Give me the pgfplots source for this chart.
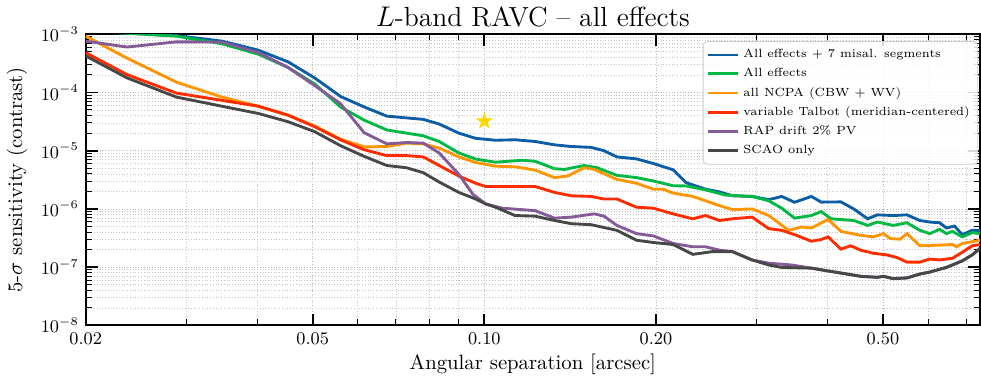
\documentclass[border=0pt]{standalone}
\usepackage{pgfplots}
\pgfplotsset{compat=1.18}
\definecolor{cblue}{HTML}{0C5DA5}
\definecolor{cgreen}{HTML}{00B945}
\definecolor{corange}{HTML}{FF9500}
\definecolor{cred}{HTML}{FF2C00}
\definecolor{cpurple}{HTML}{845B97}
\definecolor{cgray}{HTML}{474747}
\definecolor{cgold}{HTML}{FFD700}
\pgfdeclareplotmark{fivestar}{%
  \pgfpathmoveto{\pgfpointpolar{90}{\pgfplotmarksize}}%
  \pgfpathlineto{\pgfpointpolar{126}{0.4\pgfplotmarksize}}%
  \pgfpathlineto{\pgfpointpolar{162}{\pgfplotmarksize}}%
  \pgfpathlineto{\pgfpointpolar{198}{0.4\pgfplotmarksize}}%
  \pgfpathlineto{\pgfpointpolar{234}{\pgfplotmarksize}}%
  \pgfpathlineto{\pgfpointpolar{270}{0.4\pgfplotmarksize}}%
  \pgfpathlineto{\pgfpointpolar{306}{\pgfplotmarksize}}%
  \pgfpathlineto{\pgfpointpolar{342}{0.4\pgfplotmarksize}}%
  \pgfpathlineto{\pgfpointpolar{18}{\pgfplotmarksize}}%
  \pgfpathlineto{\pgfpointpolar{54}{0.4\pgfplotmarksize}}%
  \pgfpathclose
  \pgfusepathqfill
}
\begin{document}
\begin{tikzpicture}
\begin{axis}[
  scale only axis,
  width=453pt, height=147.5pt,
  xmode=log, ymode=log,
  xmin=0.02, xmax=0.74, ymin=1e-8, ymax=1e-3,
  xtick={0.02,0.05,0.1,0.2,0.5},
  xticklabels={0.02,0.05,0.10,0.20,0.50},
  minor xtick={0.03,0.04,0.06,0.07,0.08,0.09,0.3,0.4,0.6,0.7},
  ytick={1e-8,1e-7,1e-6,1e-5,1e-4,1e-3},
  tick align=inside,
  major tick length=6pt, minor tick length=3pt,
  every major tick/.append style={line width=0.9pt, black},
  every minor tick/.append style={line width=0.5pt, black},
  axis line style={line width=1pt},
  grid=both,
  major grid style={densely dotted, gray!55, line width=0.4pt},
  minor grid style={densely dotted, gray!45, line width=0.35pt},
  tick label style={font=\fontsize{9}{10}\selectfont},
  xlabel={Angular separation [arcsec]},
  ylabel={5-$\sigma$ sensitivity (contrast)},
  label style={font=\fontsize{10.5}{12}\selectfont},
  xlabel style={yshift=2pt},
  title={$L$-band RAVC -- all effects},
  title style={font=\fontsize{14}{16}\selectfont, at={(0.5,1)}, anchor=base, yshift=-2pt},
  legend style={at={(0.998,0.976)}, anchor=north east,
    font=\fontsize{6}{6.8}\selectfont, draw=gray!40, rounded corners=2pt,
    fill=white, fill opacity=0.85, text opacity=1, row sep=1.0pt,
    inner xsep=2pt, inner ysep=2.5pt,
    nodes={inner xsep=2pt, inner ysep=1.4pt}},
  legend cell align=left,
  legend image code/.code={\draw[#1] (0pt,0pt) -- (15pt,0pt);},
  every axis plot/.append style={line width=1.45pt},
]
\addplot[cblue] coordinates {
(0.0200,1.12e-3) (0.02364,1.04e-3) (0.02886,0.944e-3) (0.03468,0.761e-3) (0.04018,0.530e-3) (0.04528,0.335e-3) (0.05042,1.775e-4) (0.05594,8.55e-5) (0.06154,5.64e-5) (0.06746,3.92e-5) (0.07816,3.45e-5) (0.08332,2.87e-5) (0.09024,2.0e-5) (0.09656,1.63e-5) (0.1046,1.51e-5) (0.1132,1.54e-5) (0.1227,1.44e-5) (0.1328,1.26e-5) (0.1421,1.18e-5) (0.1539,1.14e-5) (0.1621,1.0e-5) (0.1708,7.82e-6) (0.1849,7.23e-6) (0.1979,6.02e-6) (0.2143,4.7e-6) (0.2256,2.84e-6) (0.2444,2.18e-6) (0.2584,1.96e-6) (0.2722,1.68e-6) (0.2948,1.64e-6) (0.3154,1.44e-6) (0.3322,1.64e-6) (0.3500,1.30e-6) (0.3746,1.64e-6) (0.3896,1.31e-6) (0.4220,1.32e-6) (0.4444,1.0e-6) (0.4700,6.77e-7) (0.4890,7.91e-7) (0.5212,7.70e-7) (0.5510,7.91e-7) (0.5804,6.33e-7) (0.6040,5.95e-7) (0.6286,5.79e-7) (0.6462,4.71e-7) (0.6674,5.09e-7) (0.6888,3.62e-7) (0.7170,4.29e-7) (0.7402,4.29e-7)
};
\addlegendentry{All effects + 7 misal. segments}
\addplot[cgreen] coordinates {
(0.0200,1.12e-3) (0.02364,1.04e-3) (0.02886,0.925e-3) (0.03468,0.685e-3) (0.04018,0.453e-3) (0.04528,0.268e-3) (0.05042,1.40e-4) (0.05594,5.64e-5) (0.06154,3.35e-5) (0.06746,2.27e-5) (0.07816,1.80e-5) (0.08332,1.44e-5) (0.09024,9.14e-6) (0.09656,7.18e-6) (0.1046,6.34e-6) (0.1164,6.85e-6) (0.1227,6.59e-6) (0.1328,4.90e-6) (0.1382,4.77e-6) (0.1497,5.57e-6) (0.1577,5.09e-6) (0.1708,3.77e-6) (0.1849,3.45e-6) (0.1979,3.02e-6) (0.2143,2.50e-6) (0.2256,2.48e-6) (0.2444,2.12e-6) (0.2647,1.73e-6) (0.2948,1.64e-6) (0.3154,1.38e-6) (0.3322,1.03e-6) (0.3500,6.95e-7) (0.3746,7.70e-7) (0.3896,9.0e-7) (0.4056,6.77e-7) (0.4444,6.33e-7) (0.4700,5.21e-7) (0.4890,5.95e-7) (0.5212,5.21e-7) (0.5510,5.79e-7) (0.5804,4.29e-7) (0.6040,3.77e-7) (0.6286,4.46e-7) (0.6462,3.77e-7) (0.6620,4.12e-7) (0.6888,3.31e-7) (0.7170,3.92e-7) (0.7402,3.77e-7)
};
\addlegendentry{All effects}
\addplot[corange] coordinates {
(0.0200,0.925e-3) (0.02364,0.387e-3) (0.02886,1.50e-4) (0.03468,8.32e-5) (0.04018,5.79e-5) (0.04528,4.07e-5) (0.05042,2.65e-5) (0.05594,1.58e-5) (0.06154,1.16e-5) (0.06746,1.18e-5) (0.07304,1.35e-5) (0.07816,1.31e-5) (0.08332,1.11e-5) (0.09024,7.82e-6) (0.09656,6.26e-6) (0.1046,5.42e-6) (0.1132,5.29e-6) (0.1227,4.64e-6) (0.1328,3.45e-6) (0.1399,3.67e-6) (0.1497,5.09e-6) (0.1558,4.77e-6) (0.1708,3.22e-6) (0.1849,2.76e-6) (0.1979,2.18e-6) (0.2059,2.18e-6) (0.2143,1.87e-6) (0.2320,1.64e-6) (0.2584,1.14e-6) (0.2722,9.73e-7) (0.2948,1.0e-6) (0.3154,7.70e-7) (0.3417,4.29e-7) (0.3598,4.90e-7) (0.3746,4.71e-7) (0.4007,6.59e-7) (0.4220,4.12e-7) (0.4570,3.52e-7) (0.4812,3.31e-7) (0.5008,3.77e-7) (0.5150,3.10e-7) (0.5359,3.02e-7) (0.5510,3.77e-7) (0.5804,2.33e-7) (0.6286,2.39e-7) (0.6620,2.45e-7) (0.6728,2.24e-7) (0.6888,2.55e-7) (0.7402,2.90e-7)
};
\addlegendentry{all NCPA (CBW + WV)}
\addplot[cred] coordinates {
(0.0200,4.82e-4) (0.02364,2.02e-4) (0.02886,9.73e-5) (0.03468,7.31e-5) (0.04018,5.79e-5) (0.04528,4.07e-5) (0.05042,2.58e-5) (0.05594,1.54e-5) (0.06154,1.04e-5) (0.06746,8.23e-6) (0.07304,8.23e-6) (0.07816,7.82e-6) (0.08332,5.57e-6) (0.09024,3.67e-6) (0.09656,2.76e-6) (0.1005,2.43e-6) (0.1046,2.42e-6) (0.1227,2.43e-6) (0.1328,1.92e-6) (0.1421,1.68e-6) (0.1539,1.64e-6) (0.1621,1.48e-6) (0.1708,1.48e-6) (0.1849,1.07e-6) (0.1979,1.03e-6) (0.2143,8.22e-7) (0.2320,6.77e-7) (0.2444,7.70e-7) (0.2584,6.33e-7) (0.2722,6.77e-7) (0.2948,7.23e-7) (0.3154,4.58e-7) (0.3322,4.29e-7) (0.3500,3.62e-7) (0.3746,2.79e-7) (0.3896,2.98e-7) (0.4007,3.31e-7) (0.4220,2.04e-7) (0.4391,2.33e-7) (0.4570,1.96e-7) (0.4812,1.73e-7) (0.5088,1.62e-7) (0.5296,1.46e-7) (0.5510,1.22e-7) (0.5804,1.22e-7) (0.6040,1.38e-7) (0.6286,1.33e-7) (0.6620,1.42e-7) (0.6888,1.80e-7) (0.7170,2.33e-7) (0.7402,2.45e-7)
};
\addlegendentry{variable Talbot (meridian-centered)}
\addplot[cpurple] coordinates {
(0.0200,7.61e-4) (0.02364,6.02e-4) (0.02886,7.40e-4) (0.03468,7.32e-4) (0.04018,4.82e-4) (0.04528,2.68e-4) (0.05042,1.31e-4) (0.05594,6.43e-5) (0.06154,2.04e-5) (0.06746,1.31e-5) (0.07304,1.38e-5) (0.07816,1.35e-5) (0.08332,9.14e-6) (0.09024,3.92e-6) (0.0954,1.80e-6) (0.1005,1.22e-6) (0.1076,1.03e-6) (0.1227,9.35e-7) (0.1328,6.95e-7) (0.1421,7.23e-7) (0.1558,8.22e-7) (0.1621,7.52e-7) (0.1708,5.21e-7) (0.1849,3.77e-7) (0.1979,3.44e-7) (0.2143,2.55e-7) (0.2320,2.24e-7) (0.2444,2.24e-7) (0.2584,1.96e-7) (0.2722,1.85e-7) (0.2948,1.33e-7) (0.3154,1.17e-7) (0.3458,1.09e-7) (0.3746,9.62e-8) (0.4056,8.45e-8) (0.4220,7.95e-8) (0.4570,7.0e-8) (0.4890,6.72e-8) (0.5008,7.0e-8) (0.5212,6.38e-8) (0.5510,6.56e-8) (0.5804,7.64e-8) (0.6040,8.26e-8) (0.6462,9.93e-8) (0.6888,1.285e-7) (0.7170,1.625e-7) (0.7402,2.11e-7)
};
\addlegendentry{RAP drift 2\% PV}
\addplot[cgray] coordinates {
(0.0200,4.24e-4) (0.02364,1.775e-4) (0.02886,8.32e-5) (0.03468,5.79e-5) (0.04018,4.35e-5) (0.04528,3.14e-5) (0.05042,2.12e-5) (0.05594,1.22e-5) (0.06154,8.0e-6) (0.06746,5.57e-6) (0.07304,5.09e-6) (0.07816,4.19e-6) (0.08332,2.90e-6) (0.09024,1.92e-6) (0.09656,1.48e-6) (0.1005,1.22e-6) (0.1046,1.07e-6) (0.1132,7.70e-7) (0.1227,7.52e-7) (0.1328,6.33e-7) (0.1421,5.57e-7) (0.1539,5.36e-7) (0.1708,4.29e-7) (0.1849,2.90e-7) (0.1979,2.65e-7) (0.2143,2.45e-7) (0.2320,1.66e-7) (0.2514,1.85e-7) (0.2722,1.85e-7) (0.2948,1.33e-7) (0.3154,1.09e-7) (0.3322,9.89e-8) (0.3746,9.62e-8) (0.3896,9.0e-8) (0.4220,7.91e-8) (0.4570,6.95e-8) (0.4890,6.68e-8) (0.5008,6.95e-8) (0.5212,6.34e-8) (0.5510,6.52e-8) (0.5804,7.60e-8) (0.6040,8.22e-8) (0.6462,9.89e-8) (0.6888,1.28e-7) (0.7170,1.62e-7) (0.7402,2.10e-7)
};
\addlegendentry{SCAO only}
\addplot[only marks, mark=fivestar, mark size=4.5pt, color=cgold, forget plot] coordinates {(0.1,3.2e-5)};
\end{axis}
\end{tikzpicture}
\end{document}
